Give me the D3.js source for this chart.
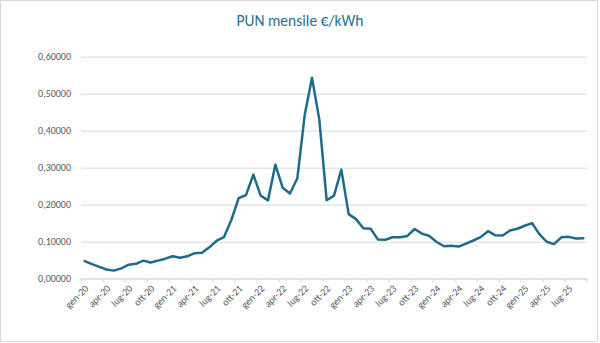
<!DOCTYPE html>
<html>
<head>
<meta charset="utf-8">
<script src="https://cdn.jsdelivr.net/npm/d3@7"></script>
<style>
  html, body { margin: 0; padding: 0; background: #fff; }
  svg { display: block; }
</style>
</head>
<body>
<div id="chart"></div>
<script>
// Monthly PUN price (€/kWh), January 2020 – September 2025
const monthNames = ["gen", "feb", "mar", "apr", "mag", "giu", "lug", "ago", "set", "ott", "nov", "dic"];
const years = ["20", "21", "22", "23", "24", "25"];

const pun2020 = [0.04747, 0.03930, 0.03202, 0.02481, 0.02179, 0.02801, 0.03801, 0.04032, 0.04880, 0.04359, 0.04881, 0.05411];
const pun2021 = [0.06071, 0.05657, 0.06043, 0.06902, 0.06995, 0.08480, 0.10265, 0.11240, 0.15859, 0.21763, 0.22595, 0.28124];
const pun2022 = [0.22450, 0.21169, 0.30807, 0.24597, 0.23006, 0.27131, 0.44165, 0.54315, 0.42992, 0.21185, 0.22451, 0.29491];
const pun2023 = [0.17449, 0.16107, 0.13638, 0.13497, 0.10573, 0.10534, 0.11209, 0.11189, 0.11567, 0.13426, 0.12170, 0.11550];
const pun2024 = [0.09916, 0.08763, 0.08886, 0.08680, 0.09488, 0.10323, 0.11235, 0.12835, 0.11712, 0.11668, 0.13025, 0.13502];
const pun2025 = [0.14303, 0.15036, 0.12055, 0.09985, 0.09358, 0.11178, 0.11310, 0.10879, 0.10907];

const yTicks = [0, 0.1, 0.2, 0.3, 0.4, 0.5, 0.6];

const values = [].concat(pun2020, pun2021, pun2022, pun2023, pun2024, pun2025);
const categories = values.map((_, i) => monthNames[i % 12] + "-" + years[Math.floor(i / 12)]);
const data = categories.map((c, i) => ({ cat: c, v: values[i] }));

const W = 600, H = 343;
const plot = { left: 81, right: 587, top: 56.7, bottom: 278.7 };
const lineColor = "#1f6b8c";
const textGray = "#595959";
const gridColor = "#d9d9d9";
const font = "Carlito, Lato, 'Open Sans', sans-serif";

const svg = d3.select("#chart").append("svg")
  .attr("width", W).attr("height", H);

// chart area frame
svg.append("rect")
  .attr("x", 0.5).attr("y", 0.5)
  .attr("width", 597).attr("height", 341)
  .attr("fill", "#fff").attr("stroke", "#d9d9d9").attr("stroke-width", 1);

svg.append("text")
  .attr("x", 300).attr("y", 25.7)
  .attr("text-anchor", "middle")
  .attr("font-family", font)
  .attr("font-size", 15.5)
  .attr("fill", "#2a6f90")
  .text("PUN mensile €/kWh");

const x = d3.scaleBand().domain(categories).range([plot.left, plot.right]).padding(0);
const y = d3.scaleLinear().domain([0, 0.6]).range([plot.bottom, plot.top]);
const cx = c => x(c) + x.bandwidth() / 2;

// horizontal gridlines + y labels
const fmt = v => d3.format(".5f")(v).replace(".", ",");
const yAxis = d3.axisLeft(y).tickValues(yTicks).tickSize(-(plot.right - plot.left)).tickPadding(10).tickFormat(fmt);
const gy = svg.append("g").attr("transform", `translate(${plot.left},0)`).call(yAxis);
gy.select(".domain").remove();
gy.selectAll(".tick line").attr("stroke", gridColor).attr("stroke-width", 1);
gy.selectAll(".tick text")
  .attr("fill", textGray)
  .attr("font-family", font)
  .attr("font-size", 10);

// category axis: ticks on category boundaries every 3 months
const gx = svg.append("g").attr("transform", `translate(0,${plot.bottom})`);
gx.append("line")
  .attr("x1", plot.left).attr("x2", plot.right)
  .attr("stroke", gridColor).attr("stroke-width", 1);
const tickIdx = d3.range(0, categories.length + 1, 3);
gx.selectAll("line.tk").data(tickIdx).join("line")
  .attr("class", "tk")
  .attr("x1", i => plot.left + i * x.bandwidth())
  .attr("x2", i => plot.left + i * x.bandwidth())
  .attr("y1", 0).attr("y2", 4)
  .attr("stroke", gridColor);
const labelCats = categories.filter((_, i) => i % 3 === 0);
gx.selectAll("text.lbl").data(labelCats).join("text")
  .attr("class", "lbl")
  .attr("transform", c => `translate(${cx(c) + 2},${8}) rotate(-45)`)
  .attr("text-anchor", "end")
  .attr("dy", "0.35em")
  .attr("fill", textGray)
  .attr("font-family", font)
  .attr("font-size", 10)
  .text(c => c);

// price line
const line = d3.line().x(d => cx(d.cat)).y(d => y(d.v));
svg.append("path")
  .datum(data)
  .attr("d", line)
  .attr("fill", "none")
  .attr("stroke", lineColor)
  .attr("stroke-width", 2.5)
  .attr("stroke-linejoin", "round")
  .attr("stroke-linecap", "round");
</script>
</body>
</html>
